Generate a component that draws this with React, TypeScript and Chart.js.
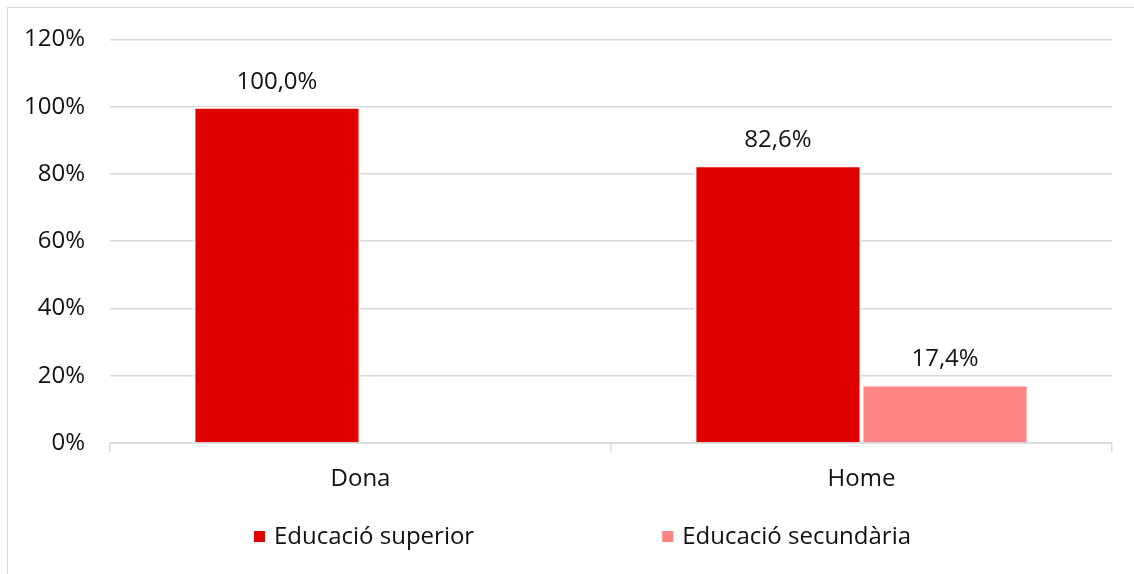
import React, { useEffect, useRef } from "react";
import { Chart, registerables } from "chart.js";

Chart.register(...registerables);

const categories = ["Dona", "Home"];
const seriesNames = ["Educació superior", "Educació secundària"];
const superior: (number | null)[] = [100.0, 82.6];
const secundaria: (number | null)[] = [null, 17.4];
const yMin = 0;
const yMax = 120;
const yStep = 20;
const seriesColors = ["#E00000", "#FF8585"];

const FONT = '"Open Sans", sans-serif';
const FS = 24;
const TEXT = "#111111";
const GRID = "#d9d9d9";

function fmtPct(v: number) {
  return v.toFixed(1).replace(".", ",") + "%";
}

const dataLabels = {
  id: "dataLabels",
  afterDatasetsDraw(chart: any) {
    const ctx = chart.ctx;
    ctx.save();
    ctx.font = `${FS}px ${FONT}`;
    ctx.fillStyle = TEXT;
    ctx.textAlign = "center";
    ctx.textBaseline = "alphabetic";
    chart.data.datasets.forEach((ds: any, i: number) => {
      const meta = chart.getDatasetMeta(i);
      meta.data.forEach((bar: any, j: number) => {
        const v = ds.data[j];
        if (v == null) return;
        ctx.fillText(fmtPct(v), bar.x, bar.y - 18);
      });
    });
    ctx.restore();
  },
};

const customLegend = {
  id: "customLegend",
  afterDraw(chart: any) {
    const ctx = chart.ctx;
    ctx.save();
    ctx.font = `${FS}px ${FONT}`;
    ctx.textBaseline = "alphabetic";
    ctx.textAlign = "left";
    const box = 11;
    const boxGap = 9;
    const gap = 188;
    const widths = chart.data.datasets.map((ds: any) => ctx.measureText(ds.label).width);
    const total = widths.reduce((a: number, w: number) => a + box + boxGap + w, 0) + gap * (widths.length - 1);
    let x = 582.5 - total / 2;
    const yBase = 544;
    chart.data.datasets.forEach((ds: any, i: number) => {
      ctx.fillStyle = ds.backgroundColor;
      ctx.fillRect(x, 531, box, box);
      x += box + boxGap;
      ctx.fillStyle = TEXT;
      ctx.fillText(ds.label, x, yBase);
      x += widths[i] + gap;
    });
    ctx.restore();
  },
};

export default function App() {
  const ref = useRef<HTMLCanvasElement | null>(null);

  useEffect(() => {
    if (!ref.current) return;
    const barStyle = {
      barPercentage: 1.0,
      categoryPercentage: 0.667,
      borderColor: "#ffffff",
      borderWidth: 2,
      borderSkipped: "start" as const,
    };
    const chart = new Chart(ref.current, {
      type: "bar",
      data: {
        labels: categories,
        datasets: [
          {
            label: seriesNames[0],
            data: superior,
            backgroundColor: seriesColors[0],
            ...barStyle,
          },
          {
            label: seriesNames[1],
            data: secundaria,
            backgroundColor: seriesColors[1],
            ...barStyle,
          },
        ],
      },
      options: {
        responsive: false,
        animation: false,
        layout: { padding: { left: 10, right: 22, top: 37, bottom: 76 } },
        plugins: {
          legend: { display: false },
          tooltip: { enabled: false },
        },
        scales: {
          x: {
            grid: {
              offset: true,
              drawOnChartArea: false,
              drawTicks: true,
              tickLength: 9,
              color: GRID,
              lineWidth: 1.5,
            },
            border: { display: true, color: GRID, width: 1.5 },
            ticks: { font: { family: FONT, size: FS }, color: TEXT, padding: 13 },
            afterFit: (s: any) => {
              s.height = 55;
            },
          },
          y: {
            min: yMin,
            max: yMax,
            ticks: {
              stepSize: yStep,
              font: { family: FONT, size: FS },
              color: TEXT,
              padding: 25,
              callback: (v: any) => v + "%",
            },
            grid: { color: GRID, lineWidth: 1.5, drawTicks: false },
            border: { display: false },
            afterFit: (s: any) => {
              s.width = 100;
            },
          },
        },
      },
      plugins: [dataLabels, customLegend],
    });
    return () => chart.destroy();
  }, []);

  return (
    <div style={{ position: "fixed", left: 0, top: 0, width: 1134, height: 574, overflow: "hidden", background: "#fff" }}>
      <div
        style={{
          position: "absolute",
          left: 7,
          top: 7,
          width: 1200,
          height: 700,
          border: "1px solid #d9d9d9",
        }}
      />
      <canvas ref={ref} width={1134} height={574} style={{ position: "absolute", left: 0, top: 0 }} />
    </div>
  );
}
